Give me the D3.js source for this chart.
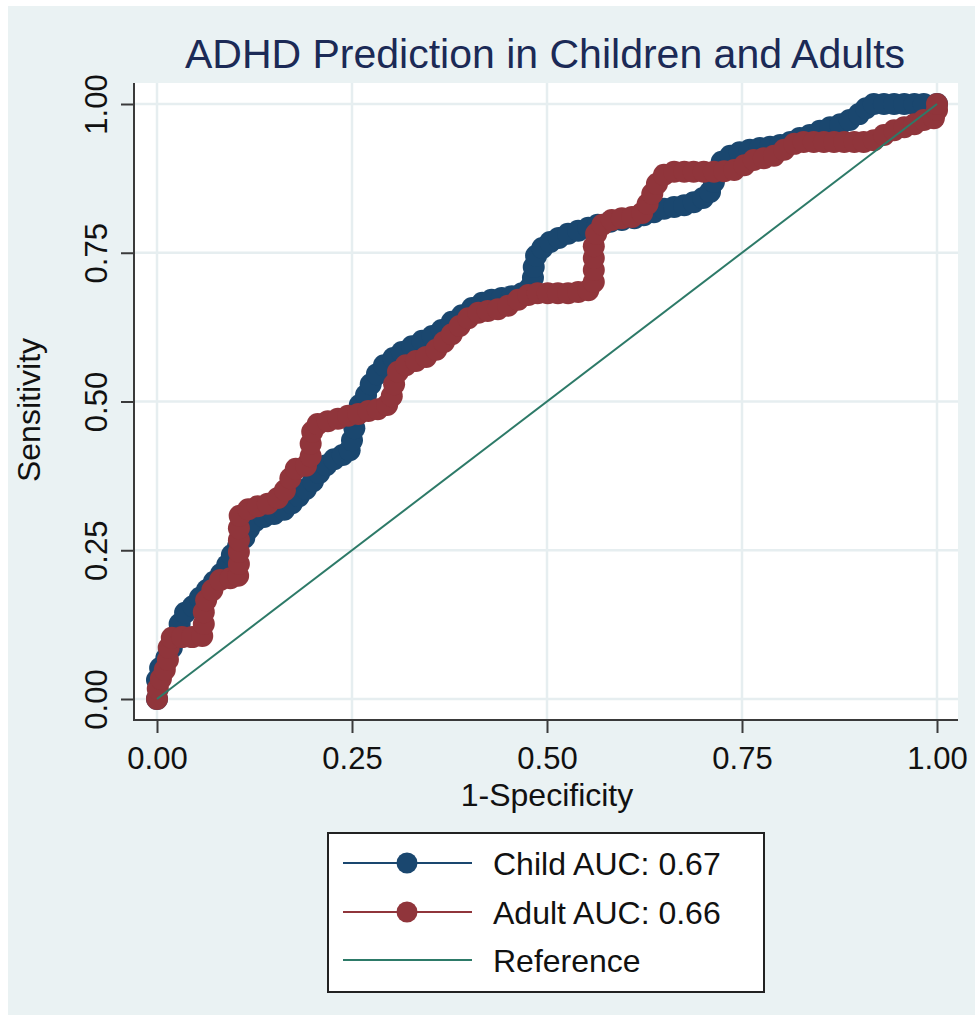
<!DOCTYPE html>
<html>
<head>
<meta charset="utf-8">
<script src="https://cdn.jsdelivr.net/npm/d3@7"></script>
<style>
  body { margin: 0; background: #fff; }
  svg { display: block; }
</style>
</head>
<body>
<div id="chart"></div>
<script>
// ROC points: [1-specificity, sensitivity]
const childRoc = [
  [0, 0], [0, 0.032], [0.004, 0.052], [0.012, 0.069], [0.019, 0.086], [0.024, 0.106],
  [0.029, 0.126], [0.036, 0.145], [0.046, 0.156], [0.055, 0.17], [0.064, 0.183],
  [0.073, 0.197], [0.082, 0.21], [0.09, 0.225], [0.096, 0.242], [0.104, 0.257],
  [0.112, 0.271], [0.118, 0.286], [0.126, 0.299], [0.137, 0.306], [0.15, 0.311],
  [0.163, 0.318], [0.173, 0.329], [0.182, 0.341], [0.191, 0.353], [0.2, 0.366],
  [0.208, 0.38], [0.217, 0.393], [0.227, 0.403], [0.238, 0.41], [0.247, 0.418],
  [0.25, 0.435], [0.253, 0.455], [0.255, 0.476], [0.26, 0.494], [0.268, 0.511],
  [0.274, 0.529], [0.282, 0.546], [0.291, 0.561], [0.303, 0.573], [0.314, 0.583],
  [0.327, 0.593], [0.34, 0.602], [0.353, 0.61], [0.365, 0.62], [0.378, 0.634],
  [0.391, 0.645], [0.404, 0.657], [0.417, 0.666], [0.429, 0.671], [0.442, 0.674],
  [0.455, 0.677], [0.468, 0.682], [0.478, 0.691], [0.482, 0.708], [0.483, 0.726],
  [0.486, 0.745], [0.494, 0.758], [0.504, 0.768], [0.515, 0.775], [0.527, 0.782],
  [0.54, 0.787], [0.553, 0.792], [0.565, 0.797], [0.581, 0.802], [0.596, 0.805],
  [0.612, 0.808], [0.624, 0.813], [0.637, 0.818], [0.65, 0.824], [0.663, 0.827],
  [0.676, 0.83], [0.688, 0.835], [0.7, 0.842], [0.709, 0.852], [0.714, 0.869],
  [0.718, 0.887], [0.724, 0.903], [0.735, 0.913], [0.747, 0.919], [0.76, 0.923],
  [0.773, 0.926], [0.786, 0.928], [0.799, 0.931], [0.812, 0.936], [0.824, 0.943],
  [0.837, 0.948], [0.85, 0.955], [0.863, 0.961], [0.876, 0.966], [0.888, 0.973],
  [0.9, 0.983], [0.909, 0.993], [0.919, 1], [0.932, 1], [0.945, 1], [0.958, 1],
  [0.971, 1], [0.983, 1], [1, 1]
];

const adultRoc = [
  [0, 0], [0.001, 0.017], [0.005, 0.034], [0.01, 0.049], [0.014, 0.066], [0.015, 0.086],
  [0.019, 0.103], [0.032, 0.104], [0.045, 0.104], [0.058, 0.106], [0.06, 0.126],
  [0.06, 0.146], [0.063, 0.166], [0.071, 0.183], [0.081, 0.2], [0.094, 0.203],
  [0.104, 0.207], [0.105, 0.227], [0.105, 0.247], [0.105, 0.267], [0.105, 0.287],
  [0.106, 0.308], [0.117, 0.319], [0.129, 0.324], [0.142, 0.328], [0.155, 0.338],
  [0.164, 0.351], [0.171, 0.371], [0.178, 0.387], [0.191, 0.392], [0.197, 0.408],
  [0.197, 0.429], [0.199, 0.449], [0.206, 0.462], [0.219, 0.467], [0.232, 0.471],
  [0.245, 0.476], [0.258, 0.479], [0.271, 0.484], [0.283, 0.487], [0.295, 0.494],
  [0.301, 0.509], [0.304, 0.529], [0.309, 0.55], [0.319, 0.561], [0.332, 0.568],
  [0.345, 0.575], [0.358, 0.587], [0.368, 0.6], [0.378, 0.613], [0.388, 0.627],
  [0.399, 0.64], [0.412, 0.649], [0.424, 0.652], [0.437, 0.655], [0.45, 0.661],
  [0.463, 0.671], [0.476, 0.679], [0.488, 0.682], [0.501, 0.682], [0.514, 0.682],
  [0.527, 0.682], [0.54, 0.684], [0.553, 0.687], [0.56, 0.701], [0.56, 0.721],
  [0.56, 0.741], [0.56, 0.761], [0.563, 0.782], [0.571, 0.797], [0.583, 0.805],
  [0.596, 0.808], [0.609, 0.81], [0.622, 0.817], [0.629, 0.832], [0.635, 0.849],
  [0.641, 0.866], [0.65, 0.881], [0.663, 0.886], [0.676, 0.886], [0.688, 0.886],
  [0.701, 0.886], [0.714, 0.886], [0.727, 0.887], [0.74, 0.889], [0.753, 0.897],
  [0.765, 0.906], [0.778, 0.909], [0.791, 0.913], [0.804, 0.923], [0.817, 0.933],
  [0.829, 0.936], [0.842, 0.936], [0.855, 0.936], [0.868, 0.936], [0.881, 0.936],
  [0.894, 0.936], [0.906, 0.936], [0.919, 0.939], [0.932, 0.948], [0.945, 0.956],
  [0.958, 0.961], [0.971, 0.966], [0.983, 0.973], [0.996, 0.976], [1, 0.99], [1, 1]
];

const referenceLine = [[0, 0], [1, 1]];
const tickValues = [0, 0.25, 0.5, 0.75, 1];
const legendLabels = ['Child AUC: 0.67', 'Adult AUC: 0.66', 'Reference'];

const colors = { child: '#1a476f', adult: '#90353b', ref: '#2d7a68' };
const font = '"Liberation Sans", Arial, Helvetica, sans-serif';

const W = 975;
const H = 1015;
// plot region and data area
const plot = { left: 134, right: 958, top: 83, bottom: 720 };

const svg = d3
  .select('#chart')
  .append('svg')
  .attr('width', W)
  .attr('height', H)
  .style('font-family', font);

// graph background
svg.append('rect')
  .attr('x', 8).attr('y', 6)
  .attr('width', W - 8).attr('height', H - 6)
  .attr('fill', '#eaf2f3');

svg.append('rect')
  .attr('x', plot.left).attr('y', plot.top)
  .attr('width', plot.right - plot.left)
  .attr('height', plot.bottom - plot.top)
  .attr('fill', '#fff');

const xScale = d3.scaleLinear().domain([0, 1]).range([157, 937]);
const yScale = d3.scaleLinear().domain([0, 1]).range([699, 104]);

// gridlines
const grid = svg.append('g').attr('stroke', '#e6eef0').attr('stroke-width', 2.5);
grid.selectAll('.gx')
  .data(tickValues)
  .join('line')
  .attr('x1', (d) => xScale(d)).attr('x2', (d) => xScale(d))
  .attr('y1', plot.top).attr('y2', plot.bottom);
grid.selectAll('.gy')
  .data(tickValues)
  .join('line')
  .attr('y1', (d) => yScale(d)).attr('y2', (d) => yScale(d))
  .attr('x1', plot.left).attr('x2', plot.right);

// curves
const line = d3.line().x((d) => xScale(d[0])).y((d) => yScale(d[1]));

const drawSeries = (data, color) => {
  const g = svg.append('g');
  g.append('path')
    .datum(data)
    .attr('d', line)
    .attr('fill', 'none')
    .attr('stroke', color)
    .attr('stroke-width', 1.5);
  g.selectAll('circle')
    .data(data)
    .join('circle')
    .attr('cx', (d) => xScale(d[0]))
    .attr('cy', (d) => yScale(d[1]))
    .attr('r', 11)
    .attr('fill', color);
};

drawSeries(childRoc, colors.child);
drawSeries(adultRoc, colors.adult);

svg.append('path')
  .datum(referenceLine)
  .attr('d', line)
  .attr('fill', 'none')
  .attr('stroke', colors.ref)
  .attr('stroke-width', 2);

// axes
const fmt = d3.format('.2f');
const xAxis = svg.append('g')
  .attr('transform', `translate(0, ${plot.bottom})`)
  .call(d3.axisBottom(xScale).tickValues(tickValues).tickFormat(fmt).tickSize(13).tickPadding(14));
xAxis.select('.domain').remove();
xAxis.selectAll('line').attr('stroke', '#3a3a3a').attr('stroke-width', 2);
xAxis.selectAll('text')
  .attr('font-family', font)
  .attr('font-size', 31)
  .attr('fill', '#111')
  .attr('dy', '0.71em');

const yAxis = svg.append('g')
  .attr('transform', `translate(${plot.left}, 0)`)
  .call(d3.axisLeft(yScale).tickValues(tickValues).tickFormat(fmt).tickSize(13));
yAxis.select('.domain').remove();
yAxis.selectAll('line').attr('stroke', '#3a3a3a').attr('stroke-width', 2);
yAxis.selectAll('text')
  .attr('font-family', font)
  .attr('font-size', 31)
  .attr('fill', '#111')
  .attr('x', 0)
  .attr('y', -27)
  .attr('dy', 0)
  .attr('transform', 'rotate(-90)')
  .style('text-anchor', 'middle');

svg.append('line')
  .attr('x1', plot.left).attr('x2', plot.right)
  .attr('y1', plot.bottom).attr('y2', plot.bottom)
  .attr('stroke', '#3a3a3a').attr('stroke-width', 2);
svg.append('line')
  .attr('x1', plot.left).attr('x2', plot.left)
  .attr('y1', plot.top).attr('y2', plot.bottom + 1)
  .attr('stroke', '#3a3a3a').attr('stroke-width', 2);

// titles
svg.append('text')
  .attr('x', 545).attr('y', 68)
  .attr('text-anchor', 'middle')
  .attr('font-size', 41)
  .attr('fill', '#1b2a56')
  .text('ADHD Prediction in Children and Adults');

svg.append('text')
  .attr('x', 547).attr('y', 806)
  .attr('text-anchor', 'middle')
  .attr('font-size', 32)
  .attr('fill', '#111')
  .text('1-Specificity');

svg.append('text')
  .attr('transform', 'translate(40, 410) rotate(-90)')
  .attr('text-anchor', 'middle')
  .attr('font-size', 32)
  .attr('fill', '#111')
  .text('Sensitivity');

// legend
const legend = svg.append('g');
legend.append('rect')
  .attr('x', 328).attr('y', 833)
  .attr('width', 436).attr('height', 159)
  .attr('fill', '#fff')
  .attr('stroke', '#222')
  .attr('stroke-width', 2);

const legendColors = [colors.child, colors.adult, colors.ref];
const rowY = [863, 912, 960];
legendLabels.forEach((label, i) => {
  const row = legend.append('g').attr('transform', `translate(0, ${rowY[i]})`);
  row.append('line')
    .attr('x1', 343).attr('x2', 472)
    .attr('stroke', legendColors[i])
    .attr('stroke-width', 2);
  if (i < 2) {
    row.append('circle')
      .attr('cx', 407).attr('r', 10.5)
      .attr('fill', legendColors[i]);
  }
  row.append('text')
    .attr('x', 493).attr('y', 0)
    .attr('dy', '0.36em')
    .attr('font-size', 32)
    .attr('fill', '#111')
    .text(label);
});
</script>
</body>
</html>
